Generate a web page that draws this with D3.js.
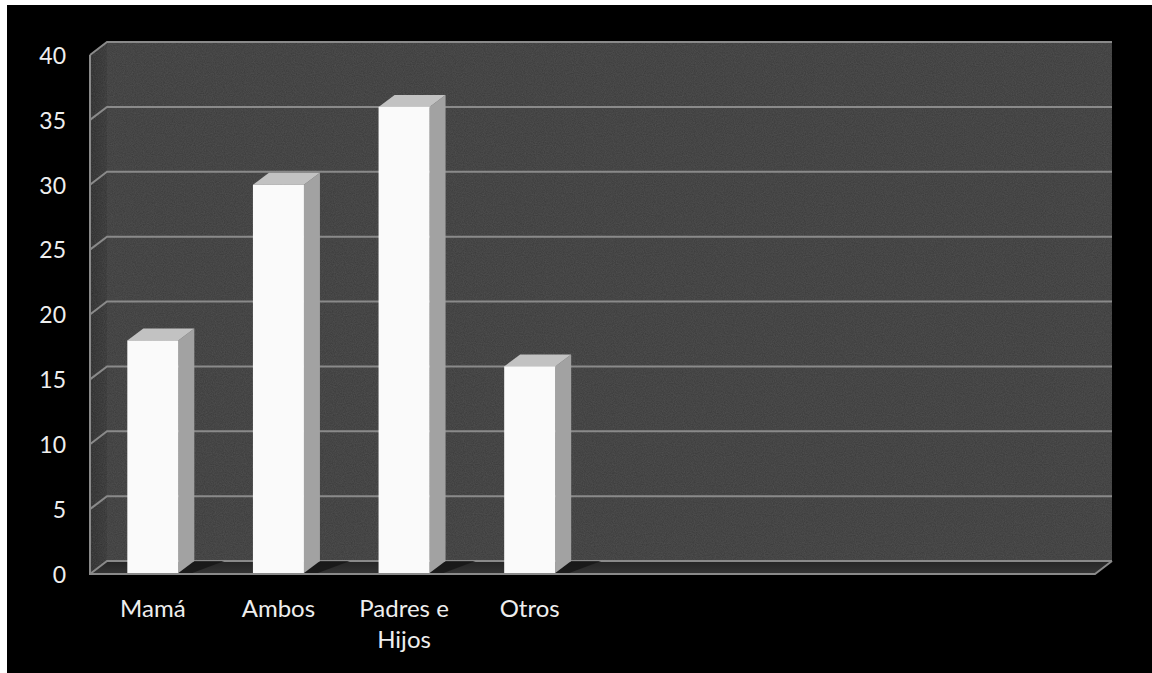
<!DOCTYPE html>
<html>
<head>
<meta charset="utf-8">
<script src="https://cdn.jsdelivr.net/npm/d3@7"></script>
<style>
  html, body { margin: 0; padding: 0; background: #ffffff; }
  svg { display: block; }
</style>
</head>
<body>
<svg id="chart" width="1152" height="673"></svg>
<script>
// ---- data ----
const categories = ["Mamá", "Ambos", "Padres e Hijos", "Otros", "", "", "", ""];
const values = [18, 30, 36, 16, null, null, null, null];
const yTicks = [0, 5, 10, 15, 20, 25, 30, 35, 40];

// ---- layout ----
const W = 1152, H = 673;
const frontLeft = 90, frontRight = 1095;
const frontTop = 55, frontBottom = 574;
const depthX = 17, depthY = -13;     // wall depth offset (front -> back)
const barDX = 16, barDY = -12;       // bar depth offset

const svg = d3.select("#chart");

// outer frame: white border with black chart area
svg.append("rect").attr("x", 0).attr("y", 0).attr("width", W).attr("height", H).attr("fill", "#ffffff");
svg.append("rect").attr("x", 7).attr("y", 5).attr("width", W - 7).attr("height", H - 5).attr("fill", "#000000");

const defs = svg.append("defs");
const noise = defs.append("filter").attr("id", "noise").attr("x", 0).attr("y", 0).attr("width", "100%").attr("height", "100%");
noise.append("feTurbulence").attr("type", "fractalNoise").attr("baseFrequency", 0.9).attr("numOctaves", 2).attr("seed", 3).attr("result", "t");
noise.append("feColorMatrix").attr("in", "t").attr("type", "matrix")
  .attr("values", "0 0 0 0 0.5  0 0 0 0 0.5  0 0 0 0 0.5  0 0 0 0.18 0").attr("result", "n");
noise.append("feComposite").attr("in", "n").attr("in2", "SourceGraphic").attr("operator", "in");

const sideGrad = defs.append("linearGradient").attr("id", "sideGrad").attr("x1", 0).attr("x2", 1).attr("y1", 0).attr("y2", 0);
sideGrad.append("stop").attr("offset", "0%").attr("stop-color", "#2a2a2a");
sideGrad.append("stop").attr("offset", "100%").attr("stop-color", "#333333");

const floorGrad = defs.append("linearGradient").attr("id", "floorGrad").attr("x1", 0).attr("x2", 0).attr("y1", 0).attr("y2", 1);
floorGrad.append("stop").attr("offset", "0%").attr("stop-color", "#262626");
floorGrad.append("stop").attr("offset", "100%").attr("stop-color", "#353535");

// scales
const yFront = d3.scaleLinear().domain([0, 40]).range([frontBottom, frontTop]);
const yBack = v => yFront(v) + depthY;
const x = d3.scaleBand().domain(d3.range(categories.length)).range([frontLeft, frontRight]).paddingInner(0.594).paddingOuter(0.297);

const backL = frontLeft + depthX, backR = frontRight + depthX;
const line = d3.line();

// back wall
svg.append("rect").attr("x", backL).attr("y", yBack(40)).attr("width", backR - backL).attr("height", yBack(0) - yBack(40)).attr("fill", "#3a3a3a");
svg.append("rect").attr("x", backL).attr("y", yBack(40)).attr("width", backR - backL).attr("height", yBack(0) - yBack(40)).attr("fill", "#3a3a3a").attr("filter", "url(#noise)");
// side wall
const sidePts = [[frontLeft, yFront(40)], [backL, yBack(40)], [backL, yBack(0)], [frontLeft, yFront(0)]];
svg.append("path").attr("d", line(sidePts) + "Z").attr("fill", "url(#sideGrad)");
svg.append("path").attr("d", line(sidePts) + "Z").attr("fill", "#2e2e2e").attr("filter", "url(#noise)");
// floor
const floorPts = [[frontLeft, yFront(0)], [backL, yBack(0)], [backR, yBack(0)], [frontRight, yFront(0)]];
svg.append("path").attr("d", line(floorPts) + "Z").attr("fill", "url(#floorGrad)");

// gridlines
const grid = svg.append("g").attr("stroke", "#8a8a8a").attr("stroke-width", 2).attr("fill", "none");
yTicks.forEach(v => {
  grid.append("path").attr("d", line([[frontLeft, yFront(v)], [backL, yBack(v)], [backR, yBack(v)]]));
});
// side wall front edge & floor front edge
grid.append("path").attr("d", line([[frontLeft, yFront(40)], [frontLeft, yFront(0)], [frontRight, yFront(0)], [backR, yBack(0)]])).attr("stroke", "#8a8a8a");

// bar shadows on floor
const bars = categories.map((c, i) => ({ c, i, v: values[i] })).filter(d => d.v != null);
svg.append("g").selectAll("path").data(bars).join("path")
  .attr("d", d => {
    const x1 = x(d.i) + x.bandwidth();
    return line([[x1, yFront(0) - 1], [x1 + barDX, yFront(0) - 1 + barDY], [x1 + barDX + 30, yFront(0) - 1 + barDY], [x1 + 14, yFront(0) - 1]]) + "Z";
  })
  .attr("fill", "#151515").attr("opacity", 0.8);

// bars
const barG = svg.append("g");
const base = yFront(0) - 1;
bars.forEach(d => {
  const x0 = x(d.i), x1 = x0 + x.bandwidth(), yt = yFront(d.v) ;
  // side
  barG.append("path").attr("d", line([[x1, yt], [x1 + barDX, yt + barDY], [x1 + barDX, base + barDY], [x1, base]]) + "Z")
    .attr("fill", "#a2a2a2");
  // top
  barG.append("path").attr("d", line([[x0, yt], [x0 + barDX, yt + barDY], [x1 + barDX, yt + barDY], [x1, yt]]) + "Z")
    .attr("fill", "#c2c2c2");
  // front
  barG.append("rect").attr("x", x0).attr("y", yt).attr("width", x.bandwidth()).attr("height", base - yt).attr("fill", "#fafafa");
});

// y axis labels
const yAxis = d3.axisLeft(yFront).tickValues(yTicks).tickSize(0).tickPadding(0);
const yg = svg.append("g").attr("transform", "translate(66,0)").call(yAxis);
yg.select(".domain").remove();
yg.selectAll("text").attr("fill", "#eeeeee").style("font-family", "Lato, 'Noto Sans', sans-serif").style("font-size", "23px").attr("dy", "0.36em");

// category labels (wrapped)
const catG = svg.append("g").attr("fill", "#eeeeee").style("font-family", "Lato, 'Noto Sans', sans-serif").style("font-size", "24px").attr("text-anchor", "middle");
categories.forEach((c, i) => {
  if (!c) return;
  const cx = x(i) + x.bandwidth() / 2;
  const t = catG.append("text").attr("x", cx).attr("y", 617);
  const words = c.split(" ");
  let lines = [], cur = [];
  words.forEach(w => {
    const test = cur.concat(w).join(" ");
    t.text(test);
    if (t.node().getComputedTextLength() > 110 && cur.length) { lines.push(cur.join(" ")); cur = [w]; }
    else cur.push(w);
  });
  lines.push(cur.join(" "));
  t.text(null);
  lines.forEach((l, k) => t.append("tspan").attr("x", cx).attr("y", 617 + k * 31).text(l));
});
</script>
</body>
</html>
